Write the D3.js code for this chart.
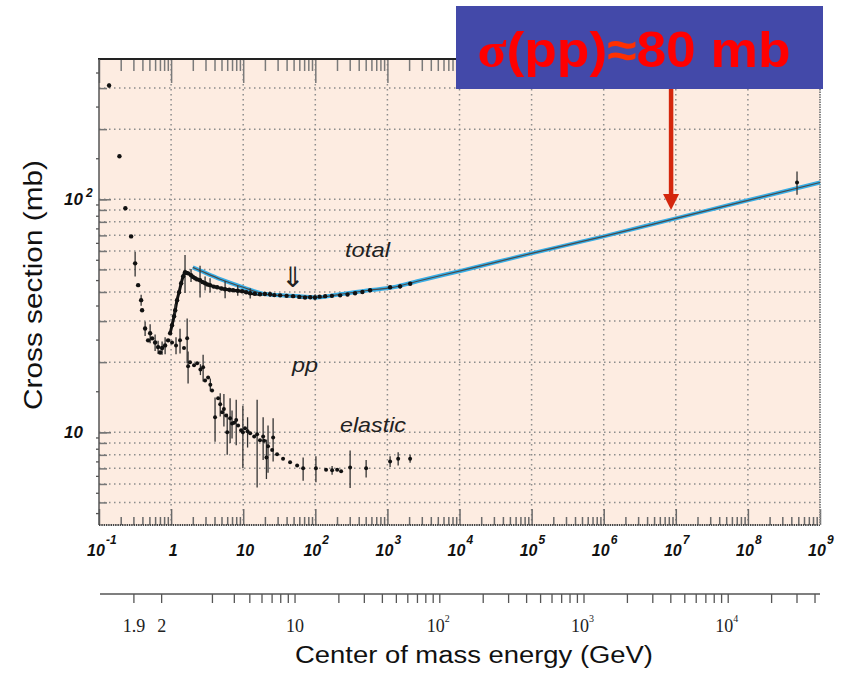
<!DOCTYPE html>
<html>
<head>
<meta charset="utf-8">
<script src="https://cdn.jsdelivr.net/npm/d3@7"></script>
<style>
body { margin: 0; background: #fff; }
svg { display: block; }
</style>
</head>
<body>
<div id="chart"></div>
<script>
// values: p_lab (GeV/c) vs cross section (mb)
var lowP = [0.138, 0.192, 0.232, 0.279, 0.317, 0.349, 0.384, 0.396, 0.436, 0.480, 0.512, 0.545, 0.600, 0.660, 0.704, 0.750, 0.826, 0.909];
var lowSigma = [308, 153, 91.5, 69.3, 53.1, 42.8, 36.9, 33.4, 27.9, 24.8, 26.6, 25.3, 24.3, 23.2, 22.0, 23.0, 23.6, 24.8];
var lowErr = [6, 0, 0, 0, 6.5, 0, 2, 0, 2, 0, 2.5, 0, 2, 1.5, 0, 1.5, 2, 0];

var totalP = [0.97, 1.03, 1.10, 1.14, 1.21, 1.29, 1.38, 1.47, 1.56, 1.64, 1.72, 1.89, 2.0, 2.15, 2.3, 2.52, 2.75, 2.96, 3.2, 3.47, 3.9, 4.35, 5.0, 5.61, 6.4, 7.24, 8.4, 9.66, 11, 12.5, 14.5, 17.1, 20, 23.6, 27, 32.5, 40, 49.2, 60, 72, 85, 99, 115, 137, 170, 221, 280, 356, 450, 575, 1090, 1500, 2070];
var totalSigma = [26.6, 28.8, 31.5, 33.4, 36.9, 39.9, 43.6, 46.7, 48.6, 48.3, 48.1, 47.2, 46.5, 45.8, 45.3, 44.9, 44.1, 43.6, 43.1, 42.8, 42.2, 41.9, 41.4, 41.1, 40.9, 40.7, 40.5, 40.3, 39.9, 39.5, 39.3, 39.1, 39.2, 39.1, 38.8, 38.7, 38.5, 38.4, 38.1, 37.9, 38.0, 37.9, 38.2, 38.4, 38.5, 38.7, 39.0, 39.5, 40.0, 40.7, 41.9, 42.3, 43.4];
var totalErr = [0, 0, 0, 2, 0, 0, 0, 0, 9, 0, 0, 3, 0, 0, 0, 7, 0, 3, 0, 3, 0, 0, 0, 3.5, 0, 0, 2, 0, 0, 2, 0, 0, 0, 1, 0, 0, 0, 0, 0, 0, 0, 1, 0, 0, 0, 0, 0, 0, 0, 0, 0, 1, 0];

var elasticP = [1.03, 1.17, 1.33, 1.51, 1.67, 1.72, 1.83, 2.08, 2.3, 2.55, 2.78, 2.96, 3.26, 3.5, 3.7, 4.07, 4.49, 4.8, 5.1, 5.4, 5.79, 6.0, 6.58, 7.0, 7.48, 8.0, 8.5, 9.35, 9.9, 10.6, 11.5, 12.5, 14.2, 15.6, 17.1, 18.9, 19.5, 21, 22.1, 25.2, 26, 29.5, 35.7, 44.7, 56, 67.8, 102, 141, 171, 201, 228, 304, 507, 1090, 1410, 2065];
var elasticSigma = [24.3, 23.6, 24.8, 23.0, 25.3, 19.2, 20.0, 19.4, 19.8, 18.6, 19.0, 16.7, 17.2, 16.0, 15.1, 11.6, 14.0, 13.2, 12.2, 12.6, 11.8, 10.0, 11.5, 10.9, 11.0, 11.3, 10.7, 10.2, 10.0, 10.4, 10.1, 9.9, 9.6, 9.8, 9.25, 9.6, 9.2, 7.8, 8.7, 8.4, 9.5, 8.05, 7.7, 7.43, 7.2, 7.0, 7.0, 6.9, 6.87, 6.9, 6.8, 7.06, 7.0, 7.5, 7.7, 7.7];
var elasticErr = [0, 2, 3, 0, 5.5, 3, 0, 0, 0, 1, 2.5, 0, 0, 1, 0, 2.5, 0, 1.5, 0, 2, 0, 2, 2.5, 1.5, 0, 2.5, 0, 0, 3, 0, 1.5, 0, 0, 4, 0, 2, 0, 1.5, 2, 0, 2, 0, 0, 0, 0, 0.8, 0.9, 0, 0.3, 0, 0, 1.3, 0.6, 0.4, 0.5, 0.3];

var cosmicP = [4.8e8];
var cosmicSigma = [118];
var cosmicErr = [13.5];

var fitP = [2, 2.5, 4.8, 10, 21, 60, 105, 220, 520, 1200, 2600, 1.1e4, 1e5, 1e6, 1e7, 1e8, 1e9];
var fitSigma = [51, 49.5, 45.4, 41.9, 39.1, 38.4, 37.9, 39.1, 40.6, 41.9, 44.5, 49.5, 58.6, 69.3, 82.8, 99, 118];

// axes
var pDecades = [0.1, 1, 10, 100, 1e3, 1e4, 1e5, 1e6, 1e7, 1e8, 1e9];
var pLabelBase = ['10', '1', '10', '10', '10', '10', '10', '10', '10', '10', '10'];
var pLabelExp = ['-1', '', '', '2', '3', '4', '5', '6', '7', '8', '9'];
var sigmaGrid = [5, 6, 7, 8, 9, 10, 20, 30, 40, 50, 60, 70, 80, 90, 100, 200, 300];
var sigmaMajor = [10, 100];
var sigmaLabelBase = ['10', '10'];
var sigmaLabelExp = ['', '2'];
var sqrtSTicks = [1.9, 2, 3, 4, 5, 6, 7, 8, 9, 10, 20, 30, 40, 50, 60, 70, 80, 90, 100, 200, 300, 400, 500, 600, 700, 800, 900, 1000, 2000, 3000, 4000, 5000, 6000, 7000, 8000, 9000, 10000, 20000, 30000, 40000];
var sqrtSLabelVals = [1.9, 2, 10, 100, 1000, 10000];
var sqrtSLabelBase = ['1.9', '2', '10', '10', '10', '10'];
var sqrtSLabelExp = ['', '', '', '2', '3', '4'];

var W = 846, H = 674;
var svg = d3.select('#chart').append('svg').attr('width', W).attr('height', H);

var x = d3.scaleLog().domain([0.1, 1e9]).range([99, 820]);
var y = d3.scaleLog().domain([4, 400]).range([525, 59]);

// sqrt(s) of a pp collision -> beam momentum on a fixed target
var mp = 0.938;
function plab(rs) {
  var E = (rs * rs - 2 * mp * mp) / (2 * mp);
  return Math.sqrt(E * E - mp * mp);
}

svg.append('rect')
  .attr('x', x(0.1)).attr('y', y(400))
  .attr('width', x(1e9) - x(0.1)).attr('height', y(4) - y(400))
  .attr('fill', '#fdece1');

// dotted grid
svg.append('g').selectAll('line').data(pDecades.slice(1, -1)).join('line')
  .attr('x1', d => x(d)).attr('x2', d => x(d))
  .attr('y1', y(400)).attr('y2', y(4))
  .attr('stroke', '#8c8c8c').attr('stroke-width', 1.5).attr('stroke-dasharray', '1.5,3.5');
svg.append('g').selectAll('line').data(sigmaGrid).join('line')
  .attr('x1', x(0.1)).attr('x2', x(1e9))
  .attr('y1', d => y(d)).attr('y2', d => y(d))
  .attr('stroke', '#8c8c8c').attr('stroke-width', 1.5).attr('stroke-dasharray', '1.5,3.5');

// minor ticks for the momentum axis
var pMinor = [];
pDecades.slice(0, -1).forEach(function (d) {
  for (var k = 2; k <= 9; k++) pMinor.push(d * k);
});
var sigmaSmall = [4.5, 5.5, 6.5, 7.5, 8.5, 9.5, 15, 25, 35, 45, 55, 65, 75, 85, 95, 150, 250, 350];

function styleAxis(g, col, w) {
  g.select('.domain').remove();
  g.selectAll('line').attr('stroke', col).attr('stroke-width', w);
}
svg.append('g').attr('transform', `translate(0,${y(400)})`)
  .call(d3.axisTop(x).tickValues(pMinor).tickSize(-12).tickFormat(''))
  .call(styleAxis, '#7a7a7a', 1.5);
svg.append('g').attr('transform', `translate(0,${y(400)})`)
  .call(d3.axisTop(x).tickValues(pDecades).tickSize(-24).tickFormat(''))
  .call(styleAxis, '#7a7a7a', 1.5);
svg.append('g').attr('transform', `translate(0,${y(4)})`)
  .call(d3.axisBottom(x).tickValues(pMinor).tickSize(-8).tickFormat(''))
  .call(styleAxis, '#6a6a6a', 1.5);
svg.append('g').attr('transform', `translate(0,${y(4)})`)
  .call(d3.axisBottom(x).tickValues(pDecades).tickSize(-16).tickFormat(''))
  .call(styleAxis, '#6a6a6a', 1.5);
svg.append('g').attr('transform', `translate(${x(0.1)},0)`)
  .call(d3.axisLeft(y).tickValues(sigmaGrid).tickSize(-8).tickFormat(''))
  .call(styleAxis, '#777', 1.5);
svg.append('g').attr('transform', `translate(${x(0.1)},0)`)
  .call(d3.axisLeft(y).tickValues(sigmaMajor).tickSize(-12).tickFormat(''))
  .call(styleAxis, '#777', 1.5);
svg.append('g').attr('transform', `translate(${x(0.1)},0)`)
  .call(d3.axisLeft(y).tickValues(sigmaSmall).tickSize(3).tickFormat(''))
  .call(styleAxis, '#555', 1.3);

// frame
svg.append('line').attr('x1', x(0.1) - 1).attr('x2', x(1e9) + 1).attr('y1', y(400)).attr('y2', y(400))
  .attr('stroke', '#222').attr('stroke-width', 2);
svg.append('line').attr('x1', x(0.1)).attr('x2', x(0.1)).attr('y1', y(400)).attr('y2', y(4))
  .attr('stroke', '#555').attr('stroke-width', 1.5);
svg.append('line').attr('x1', x(0.1)).attr('x2', x(1e9)).attr('y1', y(4)).attr('y2', y(4))
  .attr('stroke', '#444').attr('stroke-width', 2).attr('stroke-dasharray', '1.5,0.8');
svg.append('line').attr('x1', x(1e9)).attr('x2', x(1e9)).attr('y1', y(400)).attr('y2', y(4))
  .attr('stroke', '#888').attr('stroke-width', 2).attr('stroke-dasharray', '1.5,1');

var fitLine = d3.line().x(d => x(d[0])).y(d => y(d[1])).curve(d3.curveMonotoneX);
var fitData = d3.zip(fitP, fitSigma);

function drawSet(ps, ss, es, r) {
  var pts = d3.zip(ps, ss, es);
  var g = svg.append('g');
  g.selectAll('line').data(pts.filter(d => d[2] > 0)).join('line')
    .attr('x1', d => x(d[0])).attr('x2', d => x(d[0]))
    .attr('y1', d => y(d[1] + d[2])).attr('y2', d => y(Math.max(d[1] - d[2], 4.1)))
    .attr('stroke', '#333').attr('stroke-width', 1.3);
  g.selectAll('circle').data(pts).join('circle')
    .attr('cx', d => x(d[0])).attr('cy', d => y(d[1])).attr('r', r)
    .attr('fill', '#111');
}

// dense part of the total data is drawn as a thick trace
var dense = d3.zip(totalP, totalSigma).filter(d => d[0] < 120);
svg.append('path').datum(dense)
  .attr('d', d3.line().x(d => x(d[0])).y(d => y(d[1])).curve(d3.curveMonotoneX))
  .attr('fill', 'none').attr('stroke', '#111').attr('stroke-width', 3);

// fit band: light blue edges with a grey centre line
svg.append('path').datum(fitData).attr('d', fitLine)
  .attr('fill', 'none').attr('stroke', '#38aee6').attr('stroke-width', 4);
svg.append('path').datum(fitData).attr('d', fitLine)
  .attr('fill', 'none').attr('stroke', '#4a4a4a').attr('stroke-width', 1.2);

drawSet(lowP, lowSigma, lowErr, 2.2);
drawSet(totalP, totalSigma, totalErr, 2.2);
drawSet(elasticP, elasticSigma, elasticErr, 2);
drawSet(cosmicP, cosmicSigma, cosmicErr, 2);

// momentum axis labels
var font = '"Liberation Sans", Arial, Helvetica, sans-serif';
var xl = svg.append('g').attr('font-family', font).attr('font-style', 'italic')
  .attr('font-weight', 'bold').attr('fill', '#111');
pDecades.forEach(function (d, i) {
  xl.append('text').attr('x', x(d) + (pLabelExp[i] ? -3 : 2)).attr('y', 556)
    .attr('text-anchor', 'middle').attr('font-size', 16).text(pLabelBase[i]);
  if (pLabelExp[i]) {
    xl.append('text').attr('x', x(d) + 7).attr('y', 544).attr('font-size', 12).text(pLabelExp[i]);
  }
});

// cross section labels
sigmaMajor.forEach(function (d, i) {
  xl.append('text').attr('x', 83).attr('y', y(d) + 6).attr('text-anchor', 'end')
    .attr('font-size', 17).text(sigmaLabelBase[i]);
  if (sigmaLabelExp[i]) {
    xl.append('text').attr('x', 86).attr('y', y(d) - 2).attr('font-size', 12).text(sigmaLabelExp[i]);
  }
});

// second axis: centre of mass energy
var ax2 = svg.append('g');
ax2.append('line').attr('x1', 100).attr('x2', 820).attr('y1', 594).attr('y2', 594)
  .attr('stroke', '#555').attr('stroke-width', 1.6);
ax2.selectAll('line.t').data(sqrtSTicks).join('line').attr('class', 't')
  .attr('x1', d => x(plab(d))).attr('x2', d => x(plab(d)))
  .attr('y1', 594).attr('y2', 603)
  .attr('stroke', '#555').attr('stroke-width', 1.3);
var serif = '"Liberation Serif", "Times New Roman", serif';
sqrtSLabelVals.forEach(function (d, i) {
  var cx = x(plab(d));
  var hasExp = sqrtSLabelExp[i] !== '';
  ax2.append('text').attr('x', hasExp ? cx - 4 : cx).attr('y', 632).attr('text-anchor', 'middle')
    .attr('font-family', serif).attr('font-size', 18).attr('fill', '#222').text(sqrtSLabelBase[i]);
  if (hasExp) {
    ax2.append('text').attr('x', cx + 5).attr('y', 622)
      .attr('font-family', serif).attr('font-size', 10).attr('fill', '#222').text(sqrtSLabelExp[i]);
  }
});

// axis titles
svg.append('text').attr('x', 474).attr('y', 663).attr('text-anchor', 'middle')
  .attr('font-family', font).attr('font-size', 23).attr('fill', '#111')
  .attr('textLength', 358).attr('lengthAdjust', 'spacingAndGlyphs')
  .text('Center of mass energy (GeV)');
svg.append('text').attr('transform', 'translate(42,285)rotate(-90)').attr('text-anchor', 'middle')
  .attr('font-family', font).attr('font-size', 26).attr('fill', '#111')
  .attr('textLength', 250).attr('lengthAdjust', 'spacingAndGlyphs')
  .text('Cross section (mb)');

// in-plot annotations
var ann = svg.append('g').attr('font-family', font).attr('font-style', 'italic')
  .attr('font-size', 21).attr('fill', '#222');
ann.append('text').attr('x', 345).attr('y', 257).attr('textLength', 45)
  .attr('lengthAdjust', 'spacingAndGlyphs').text('total');
ann.append('text').attr('x', 292).attr('y', 372).attr('textLength', 26)
  .attr('lengthAdjust', 'spacingAndGlyphs').text('pp');
ann.append('text').attr('x', 340).attr('y', 432).attr('textLength', 66)
  .attr('lengthAdjust', 'spacingAndGlyphs').text('elastic');
svg.append('text').attr('x', 293).attr('y', 287).attr('text-anchor', 'middle')
  .attr('font-family', '"DejaVu Sans", sans-serif').attr('font-size', 28).attr('fill', '#222')
  .text('\u21D3');

// headline box and arrow
var arrowP = 8.6e6, arrowTip = 90;
svg.append('rect').attr('x', 456).attr('y', 6).attr('width', 367).attr('height', 83)
  .attr('fill', '#4349a9');
var head = svg.append('text').attr('x', 634).attr('y', 67).attr('text-anchor', 'middle')
  .attr('font-family', font).attr('font-weight', 'bold').attr('font-size', 50).attr('fill', '#ff0000')
  .attr('textLength', 313).attr('lengthAdjust', 'spacingAndGlyphs');
head.append('tspan').attr('font-family', serif).text('\u03C3');
head.append('tspan').text('(pp)');
head.append('tspan').attr('fill', '#ff3000').text('\u2248');
head.append('tspan').text('80 mb');

var ax = x(arrowP), ay = y(arrowTip);
svg.append('line').attr('x1', ax).attr('x2', ax).attr('y1', 89).attr('y2', ay - 14)
  .attr('stroke', '#d4260c').attr('stroke-width', 4.5);
svg.append('path').attr('d', `M${ax - 8},${ay - 16}L${ax + 8},${ay - 16}L${ax},${ay}Z`)
  .attr('fill', '#d4260c');
</script>
</body>
</html>
